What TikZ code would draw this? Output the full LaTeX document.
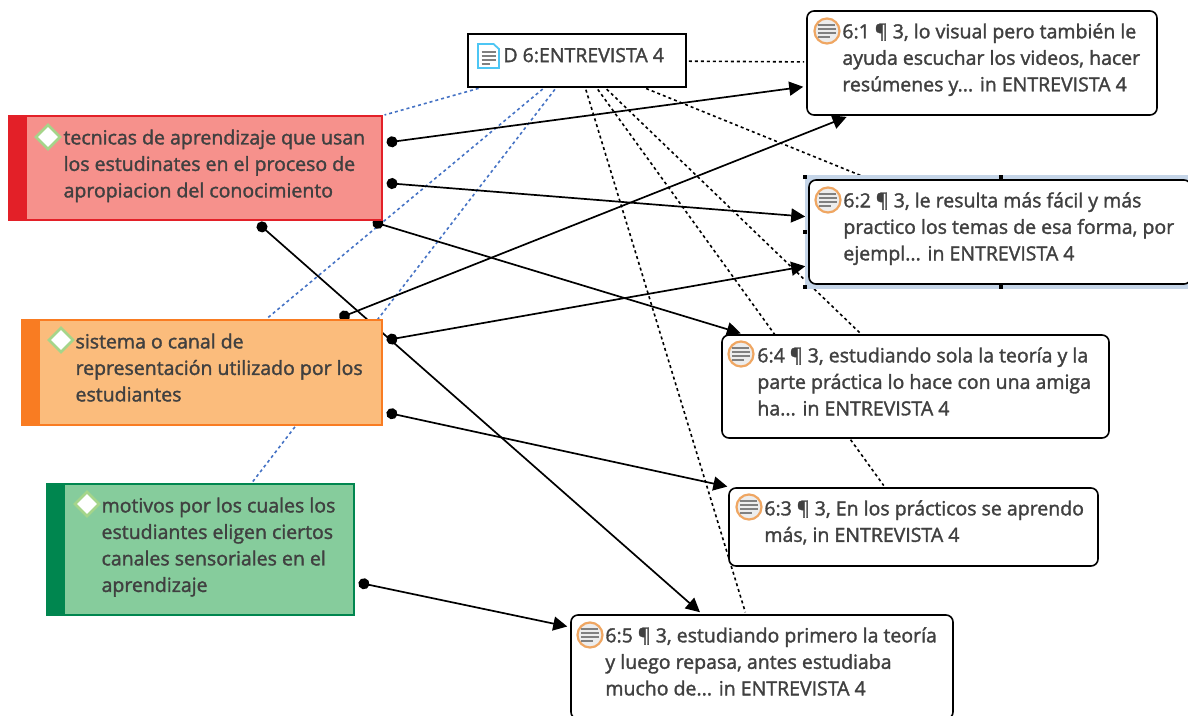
\documentclass[tikz,border=0pt]{standalone}
\usepackage{fontspec}
\setmainfont[FakeBold=1.6]{Open Sans}
\usetikzlibrary{shapes.geometric,
                arrows.meta,
                backgrounds,
                positioning}
\definecolor{textgray}{HTML}{404040}
\definecolor{iconorange}{HTML}{EFA662}
\definecolor{selectblue}{HTML}{C5D5E8}
\definecolor{linkblue}{HTML}{4472C4}
\definecolor{codered}{HTML}{E32028}
\definecolor{codeorange}{HTML}{F97C22}
\definecolor{codegreen}{HTML}{00864F}
\definecolor{fillred}{HTML}{F6918C}
\definecolor{fillorange}{HTML}{FBBC7C}
\definecolor{fillgreen}{HTML}{86CC9C}
\definecolor{markgreen}{HTML}{A5D58A}
\tikzset{codebox/.style 2 args =
   {rectangle,
    draw=#1,
    fill=#2,
    line width=1.2pt,
    path picture={\fill [#1] (path picture bounding box.south west)
        rectangle ([xshift=18pt]path picture bounding box.north west);}}}
\tikzset{notebox/.style =
   {rectangle,
    draw=black,
    fill=white,
    line width=1.6pt,
    rounded corners=7pt}}
\tikzset{boxtext/.style =
   {inner sep=0pt,
    align=left,
    text=textgray,
    font=\fontsize{19.5}{26.5}\selectfont}}
\tikzset{codemark/.style =
   {diamond,
    draw=markgreen,
    fill=white,
    line width=2.6pt,
    inner sep=0pt,
    minimum width=25pt,
    minimum height=25pt}}
\tikzset{handle/.style =
   {rectangle,
    fill=black,
    inner sep=0pt,
    minimum size=4.5pt}}
\tikzset{doclink/.style = {draw, line width=1.6pt, dash pattern=on 3pt off 3pt, shorten <=2pt, shorten >=2pt}}
\tikzset{codelink/.style = {doclink, draw=linkblue}}
\tikzset{arrow/.style =
   {draw,
    line width=1.7pt,
    {Circle[length=11pt]}-{Triangle[length=14pt,width=14pt]},
    shorten <=4pt,
    shorten >=3pt}}
\tikzset{pics/noteicon/.style =
   {code={\draw [iconorange, fill=white!93!black, line width=2.2pt] (0,0) circle (12.5pt);
          \foreach \ypos/\xend in {-6/8, -2/9, 2/9, 6/3}
              \draw [gray, line width=2pt] (-9,\ypos) -- (\xend,\ypos);}}}
\tikzset{pics/docicon/.style =
   {code={\draw [cyan!70!white, fill=white, line width=1.8pt] (-10.5,-12) -- (5,-12) -- (10.5,-7) -- (10.5,12) -- (-10.5,12) -- cycle;
          \foreach \ypos/\xend in {-4/7, 0/7, 4/7, 8/1}
              \draw [gray, line width=2pt] (-7,\ypos) -- (\xend,\ypos);}}}

\begin{document}
\begin{tikzpicture}[x=1pt, y=-1pt]

    \useasboundingbox (0,0) rectangle (1188,715);
    \clip (0,0) rectangle (1188,715);

    % selection frame goes under note 2
    \node [rectangle, fill=selectblue, minimum width=400pt, minimum height=114pt,
           anchor=north west] (selframe) at (805,175) {};
    \node [handle] (hnd1) at (805,177) {};
    \node [handle] (hnd2) at (1001,177) {};
    \node [handle] (hnd3) at (805,232) {};
    \node [handle] (hnd4) at (805,287) {};
    \node [handle] (hnd5) at (1001,287) {};

    % documents and notes
    \node [rectangle, draw=black, fill=white, line width=1.6pt,
           minimum width=218pt, minimum height=53pt] (doc) at (577,60.5) {};

    \node [notebox, minimum width=350pt, minimum height=104pt] (note1) at (982,63) {};
    \node [notebox, minimum width=382pt, minimum height=104pt] (note2) at (1000,232) {};
    \node [notebox, minimum width=387pt, minimum height=103pt] (note4) at (915.5,386.5) {};
    \node [notebox, minimum width=369pt, minimum height=78pt] (note3) at (913.5,527) {};
    \node [notebox, minimum width=382pt, minimum height=104pt] (note5) at (762,667) {};

    % codes
    \node [codebox={codered}{fillred},
           minimum width=373pt, minimum height=104pt] (code1) at (195.5,168) {};
    \node [codebox={codeorange}{fillorange},
           minimum width=360pt, minimum height=105pt] (code2) at (202,372.5) {};
    \node [codebox={codegreen}{fillgreen},
           minimum width=307pt, minimum height=131pt] (code3) at (200.5,549.5) {};

    % texts
    \pic (docmark) at (488.5,56) {docicon};
    \node [boxtext, below right=22pt and 36pt of doc.north west, anchor=west] (doctext) {D 6:ENTREVISTA 4};

    \pic (mark1) at (827,31) {noteicon};
    \node [boxtext, below right=13pt and 36pt of note1.north west] (text1)
        {6:1 ¶ 3, lo visual pero también le\\ayuda escuchar los videos, hacer\\resúmenes y... in ENTREVISTA 4};
    \pic (mark2) at (828,200) {noteicon};
    \node [boxtext, below right=13pt and 35pt of note2.north west] (text2)
        {6:2 ¶ 3, le resulta más fácil y más\\practico los temas de esa forma, por\\ejempl... in ENTREVISTA 4};
    \pic (mark4) at (741,354) {noteicon};
    \node [boxtext, below right=13pt and 36pt of note4.north west] (text4)
        {6:4 ¶ 3, estudiando sola la teoría y la\\parte práctica lo hace con una amiga\\ha... in ENTREVISTA 4};
    \pic (mark3) at (749,507) {noteicon};
    \node [boxtext, below right=13pt and 36pt of note3.north west] (text3)
        {6:3 ¶ 3, En los prácticos se aprendo\\más, in ENTREVISTA 4};
    \pic (mark5) at (590,635) {noteicon};
    \node [boxtext, below right=13pt and 35pt of note5.north west] (text5)
        {6:5 ¶ 3, estudiando primero la teoría\\y luego repasa, antes estudiaba\\mucho de... in ENTREVISTA 4};

    \node [codemark] (diam1) at (48,137) {};
    \node [boxtext, below right=14pt and 55pt of code1.north west] (codetext1)
        {tecnicas de aprendizaje que usan\\los estudinates en el proceso de\\apropiacion del conocimiento};
    \node [codemark] (diam2) at (61,340) {};
    \node [boxtext, below right=14pt and 54pt of code2.north west] (codetext2)
        {sistema o canal de\\representación utilizado por los\\estudiantes};
    \node [codemark] (diam3) at (87,504) {};
    \node [boxtext, below right=14pt and 55pt of code3.north west] (codetext3)
        {motivos por los cuales los\\estudiantes eligen ciertos\\canales sensoriales en el\\aprendizaje};

    % all connectors stay under the boxes
    \begin{pgfonlayer}{background}
        \draw [codelink] (doc) -- (code1);
        \draw [codelink] (doc) -- (code2);
        \draw [codelink] (doc) -- (code3);

        \draw [doclink] (doc) -- (note1);
        \draw [doclink] (doc) -- (note2);
        \draw [doclink] (doc) -- (note4);
        \draw [doclink] (doc) -- (note3);
        \draw [doclink] (doc) -- (note5);

        \draw [arrow] (code1) -- (note1);
        \draw [arrow] (code1) -- (note2);
        \draw [arrow] (code1) -- (note4);
        \draw [arrow] (code1) -- (note5);
        \draw [arrow] (code2) -- (note1);
        \draw [arrow] (code2) -- (note2);
        \draw [arrow] (code2) -- (note3);
        \draw [arrow] (code3) -- (note5);
    \end{pgfonlayer}

\end{tikzpicture}
\end{document}
